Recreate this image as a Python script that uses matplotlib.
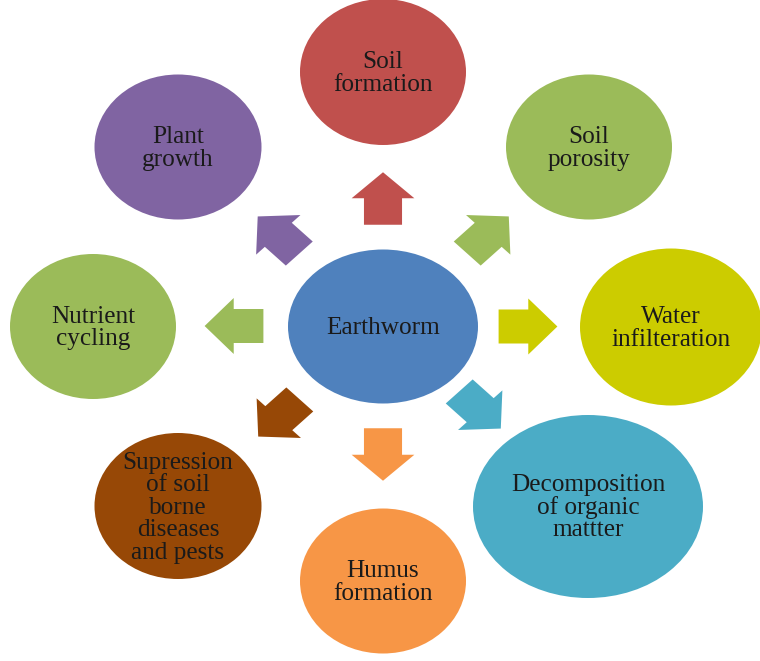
import numpy as np
import matplotlib
matplotlib.use("Agg")
import matplotlib.pyplot as plt
from matplotlib.patches import Ellipse, Polygon

plt.rcParams["font.family"] = ["Liberation Serif", "DejaVu Serif"]

# ----------------------------------------------------------------------
# Diagram content: nodes (label, colour) and their layout in pixel space
# ----------------------------------------------------------------------
center_label = "Earthworm"
center_color = "#4F81BD"
center_xy = (383, 326.5)
center_size = (190, 154)

labels = ["Soil\nformation", "Soil\nporosity", "Water\ninfilteration",
          "Decomposition\nof organic\nmattter", "Humus\nformation",
          "Supression\nof soil\nborne\ndiseases\nand pests",
          "Nutrient\ncycling", "Plant\ngrowth"]
colors = ["#C0504D", "#9BBB59", "#CCCC00", "#4BACC6", "#F79646",
          "#974806", "#9BBB59", "#8064A2"]
node_x = [383, 589, 671, 588, 383, 178, 93, 178]
node_y = [72, 147, 327, 506.5, 581, 506, 326.5, 147]
node_w = [166, 166, 182, 230, 166, 167, 166, 167]
node_h = [146, 145, 157, 183, 145, 146, 145, 145]

# arrows from the centre node towards each outer node
arrow_angle = [90, 45, 0, -45, -90, -135, 180, 135]
arrow_x = [383, 488, 528, 480, 383, 279, 234, 278.5]
arrow_y = [198.5, 235, 326.5, 410, 454.5, 418, 326, 235]

X_STRETCH = 1.12
ARROW_LEN, HEAD_LEN, HEAD_HW, SHAFT_HW = 52.5, 26, 28, 17
LINE_GAP = 22.5
TEXT_COLOR = "#1a1a1a"
FONT_SIZE = 18.2


def arrow_points(cx, cy, ang):
    L, hl = ARROW_LEN, HEAD_LEN
    pts = np.array([
        [-L / 2, -SHAFT_HW], [L / 2 - hl, -SHAFT_HW], [L / 2 - hl, -HEAD_HW],
        [L / 2, 0], [L / 2 - hl, HEAD_HW], [L / 2 - hl, SHAFT_HW], [-L / 2, SHAFT_HW],
    ])
    t = np.deg2rad(ang)
    rot = np.array([[np.cos(t), -np.sin(t)], [np.sin(t), np.cos(t)]])
    p = pts @ rot.T
    p[:, 1] *= -1          # image y points down
    p[:, 0] *= X_STRETCH
    return p + [cx, cy]


def draw_label(ax, text, cx, cy):
    lines = text.split("\n")
    n = len(lines)
    for i, ln in enumerate(lines):
        y = cy + 7.5 + (i - (n - 1) / 2) * LINE_GAP
        ax.text(cx, y, ln, ha="center", va="baseline", fontsize=FONT_SIZE,
                color=TEXT_COLOR)


fig = plt.figure(figsize=(7.6, 6.61), dpi=100)
ax = fig.add_axes([0, 0, 1, 1])
ax.set_xlim(0, 760)
ax.set_ylim(661, 0)
ax.axis("off")

for i in range(len(labels)):
    ax.add_patch(Ellipse((node_x[i], node_y[i]), node_w[i], node_h[i],
                         facecolor=colors[i], edgecolor="none"))
    draw_label(ax, labels[i], node_x[i], node_y[i])
    ax.add_patch(Polygon(arrow_points(arrow_x[i], arrow_y[i], arrow_angle[i]),
                         closed=True, facecolor=colors[i], edgecolor="none"))

ax.add_patch(Ellipse(center_xy, *center_size, facecolor=center_color, edgecolor="none"))
draw_label(ax, center_label, *center_xy)

fig.savefig("out.png", dpi=100)
